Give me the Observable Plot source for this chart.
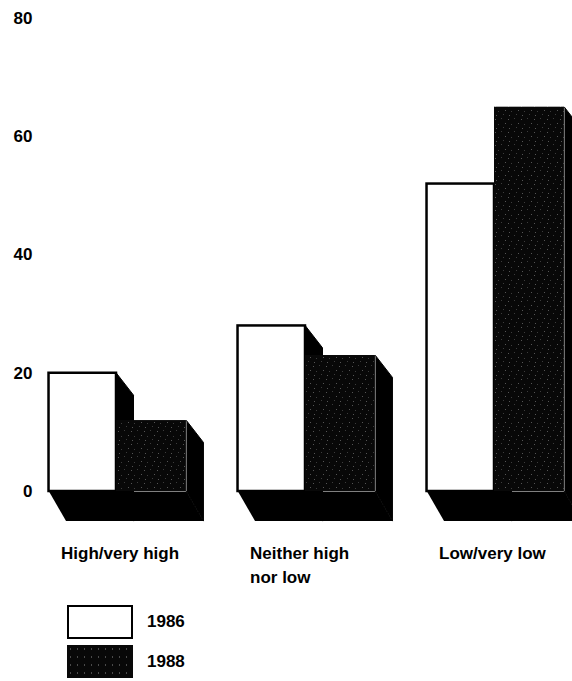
<!DOCTYPE html>
<html>
<head>
<meta charset="utf-8">
<script src="https://cdn.jsdelivr.net/npm/d3@7"></script>
<script src="https://cdn.jsdelivr.net/npm/@observablehq/plot@0.6"></script>
<style>
  body { margin: 0; background: #fff; font-family: "Liberation Sans", Arial, Helvetica, sans-serif; }
  svg { display: block; }
  #legend { padding-left: 67px; margin-top: 9px; font-weight: bold; font-size: 17px; color: #000; }
  .item { display: flex; align-items: center; }
  .box { width: 66px; box-sizing: border-box; }
  .lab { margin-left: 14px; }
</style>
</head>
<body>
<div id="chart"></div>
<div id="legend"></div>
<script>
// ---- data ----
const categories = ["High/very high", "Neither high\nnor low", "Low/very low"];
const years = ["1986", "1988"];
const values1986 = [20, 28, 52];
const values1988 = [12, 23, 65];
const yTicks = [0, 20, 40, 60, 80];

// ---- geometry (in scale units) ----
const W1 = 0.357, W2 = 0.37;   // front widths of 1986 / 1988 bars (group units)
const DX = 0.09;               // depth offset in x
const SIDE_DY = 3.7;           // depth drop of top edge
const FLOOR_DY = 5;            // depth drop of floor
const pxPerGroup = 189, firstCenter = 116, mL = 40, width = 572, height = 596;
const x0 = -(firstCenter - mL) / pxPerGroup;
const x1 = x0 + (width - mL) / pxPerGroup;

const front1986 = categories.map((c, g) => ({g, x1: g - W1, x2: g, v: values1986[g]}));
const front1988 = categories.map((c, g) => ({g, x1: g, x2: g + W2, v: values1988[g]}));

function sidePoly(b, id) {
  return [
    {id, x: b.x2, y: b.v},
    {id, x: b.x2 + DX, y: b.v - SIDE_DY},
    {id, x: b.x2 + DX, y: -FLOOR_DY},
    {id, x: b.x2, y: 0}
  ];
}
const side1986 = front1986.flatMap((b, i) => sidePoly(b, "a" + i));
const side1988 = front1988.flatMap((b, i) => sidePoly(b, "b" + i));
const floors = categories.flatMap((c, g) => [
  {id: "f" + g, x: g - W1, y: 0},
  {id: "f" + g, x: g + W2, y: 0},
  {id: "f" + g, x: g + W2 + DX, y: -FLOOR_DY},
  {id: "f" + g, x: g - W1 + DX, y: -FLOOR_DY}
]);
const labels = categories.map((c, g) => ({x: g - W1, y: -FLOOR_DY, text: c}));

const chart = Plot.plot({
  width, height,
  marginLeft: mL, marginRight: 0, marginTop: 18, marginBottom: height - (491 + FLOOR_DY * (473 / 80)),
  style: {fontFamily: "'Liberation Sans', Arial, Helvetica, sans-serif", fontSize: "17px", fontWeight: "bold", color: "#000", background: "#fff"},
  x: {domain: [x0, x1], axis: null},
  y: {domain: [-FLOOR_DY, 80], axis: null},
  marks: [
    Plot.axisY({ticks: yTicks, tickSize: 0, tickPadding: 8, label: null, fontSize: 17, fontWeight: "bold", tickFormat: d => String(d)}),
    Plot.line(floors, {x: "x", y: "y", z: "id", fill: "#000", stroke: "none"}),
    Plot.line(side1986, {x: "x", y: "y", z: "id", fill: "#000", stroke: "#000", strokeWidth: 1}),
    Plot.rect(front1986, {x1: "x1", x2: "x2", y1: 0, y2: "v", fill: "#fff", stroke: "#000", strokeWidth: 2.5}),
    Plot.line(side1988, {x: "x", y: "y", z: "id", fill: "#000", stroke: "#000", strokeWidth: 1}),
    Plot.rect(front1988, {x1: "x1", x2: "x2", y1: 0, y2: "v", fill: "url(#stip)", stroke: "none"}),
    Plot.text(labels, {x: "x", y: "y", text: "text", dx: 12, dy: 21, textAnchor: "start", lineAnchor: "top", lineHeight: 1.4, fontSize: 17, fontWeight: "bold", fill: "#000"})
  ]
});

// stipple pattern for 1988
const defs = d3.select(chart).insert("defs", ":first-child");
const pat = defs.append("pattern").attr("id", "stip").attr("patternUnits", "userSpaceOnUse")
  .attr("width", 13).attr("height", 13);
pat.append("rect").attr("width", 13).attr("height", 13).attr("fill", "#080808");
[[1,2],[7,1],[11,6],[4,7],[2,11],[9,10]].forEach(([cx, cy], i) =>
  pat.append("rect").attr("x", cx).attr("y", cy).attr("width", 1).attr("height", 1)
    .attr("fill", i % 2 ? "#3c3c3c" : "#555"));

document.getElementById("chart").appendChild(chart);

// legend
const legend = document.getElementById("legend");
years.forEach((yr, i) => {
  const item = document.createElement("div");
  item.className = "item";
  item.style.marginTop = i ? "6px" : "0";
  const box = document.createElement("div");
  box.className = "box";
  if (i === 0) {
    box.style.height = "34px";
    box.style.border = "2px solid #000";
    box.style.background = "#fff";
  } else {
    box.style.height = "33px";
    box.style.backgroundColor = "#080808";
    box.style.backgroundImage = "radial-gradient(#4a4a4a 0.5px, transparent 0.9px)";
    box.style.backgroundSize = "7px 8px";
  }
  const lab = document.createElement("span");
  lab.className = "lab";
  lab.textContent = yr;
  item.appendChild(box);
  item.appendChild(lab);
  legend.appendChild(item);
});
</script>
</body>
</html>
